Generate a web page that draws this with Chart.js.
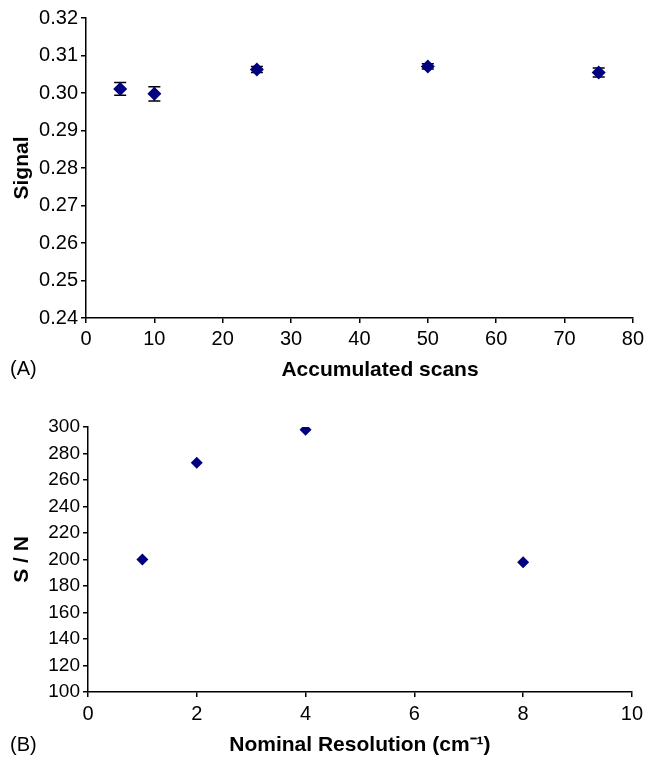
<!DOCTYPE html>
<html>
<head>
<meta charset="utf-8">
<script src="https://cdn.jsdelivr.net/npm/chart.js@4.4.0/dist/chart.umd.min.js"></script>
<style>
body { margin: 0; background: #fff; }
#wrap { position: relative; width: 648px; height: 763px; font-family: "Liberation Sans", Arial, sans-serif; }
.panel { position: absolute; left: 0; }
.tag { position: absolute; font-size: 20px; color: #000; }
.xtitle { position: absolute; font-size: 21px; font-weight: bold; color: #000; transform: translateX(-50%); white-space: nowrap; }
</style>
</head>
<body>
<div id="wrap">
  <canvas id="chartA" class="panel" width="648" height="390" style="top:0"></canvas>
  <canvas id="chartB" class="panel" width="648" height="373" style="top:390px"></canvas>
  <div class="tag" style="left:10px;top:357px">(A)</div>
  <div class="xtitle" style="left:380px;top:357px">Accumulated scans</div>
  <div class="tag" style="left:10px;top:733px">(B)</div>
</div>
<script>
// panel A data
var scans = [5, 10, 25, 50, 75];
var signal = [0.3011, 0.2998, 0.3063, 0.3071, 0.3055];
var signalErr = [0.0017, 0.0019, 0.0008, 0.0007, 0.0012];

// panel B data
var resolution = [1, 2, 4, 8];
var snRatio = [200, 273, 298, 198];

const MARK = '#000080';
const FONT = "'Liberation Sans', Arial, sans-serif";

Chart.defaults.font.family = FONT;
Chart.defaults.color = '#000';

function toPoints(xs, ys) {
  return xs.map(function (x, i) { return {x: x, y: ys[i]}; });
}

var errorBars = {
  id: 'errorBars',
  beforeDatasetsDraw: function (chart) {
    let ctx = chart.ctx;
    let xs = chart.scales.x, ys = chart.scales.y;
    ctx.save();
    ctx.strokeStyle = '#000';
    ctx.lineWidth = 1.5;
    for (let i = 0; i < scans.length; i++) {
      let px = xs.getPixelForValue(scans[i]);
      let top = ys.getPixelForValue(signal[i] + signalErr[i]);
      let bot = ys.getPixelForValue(signal[i] - signalErr[i]);
      ctx.beginPath();
      ctx.moveTo(px, top); ctx.lineTo(px, bot);
      ctx.moveTo(px - 6, top); ctx.lineTo(px + 6, top);
      ctx.moveTo(px - 6, bot); ctx.lineTo(px + 6, bot);
      ctx.stroke();
    }
    ctx.restore();
  }
};

function axisStyle() {
  return {
    grid: {display: true, drawOnChartArea: false, drawTicks: true, tickLength: 5, color: '#000', lineWidth: 1.5},
    border: {display: true, color: '#000', width: 1.5}
  };
}

function makeChart(id, points, radius, xOpts, yOpts, padding, xHeight, yWidth, plugins) {
  let xAx = Object.assign({type: 'linear', position: 'bottom'}, axisStyle(), xOpts);
  let yAx = Object.assign({type: 'linear', position: 'left'}, axisStyle(), yOpts);
  xAx.afterFit = function (s) { s.height = xHeight; };
  yAx.afterFit = function (s) { s.width = yWidth; };
  return new Chart(document.getElementById(id), {
    type: 'scatter',
    data: {
      datasets: [{
        data: points,
        pointStyle: 'rectRot',
        pointRadius: radius,
        backgroundColor: MARK,
        borderColor: MARK,
        borderWidth: 0,
        showLine: false
      }]
    },
    options: {
      responsive: false,
      animation: false,
      layout: {padding: padding},
      plugins: {legend: {display: false}, tooltip: {enabled: false}},
      scales: {x: xAx, y: yAx}
    },
    plugins: plugins
  });
}

makeChart('chartA', toPoints(scans, signal), 7,
  {
    min: 0, max: 80,
    ticks: {stepSize: 10, padding: 4, font: {size: 20}, autoSkip: false}
  },
  {
    min: 0.24, max: 0.32,
    ticks: {stepSize: 0.01, padding: 3, font: {size: 20}, autoSkip: false, callback: function (v) { return v.toFixed(2); }},
    title: {display: true, text: 'Signal', font: {size: 21, weight: 'bold'}, padding: {top: 10, bottom: 0}}
  },
  {top: 18, right: 12, left: 0, bottom: 0}, 72, 86, [errorBars]);

makeChart('chartB', toPoints(resolution, snRatio), 6,
  {
    min: 0, max: 10,
    ticks: {stepSize: 2, padding: 5, font: {size: 20}, autoSkip: false},
    title: {display: true, text: 'Nominal Resolution (cm\u207B\u00B9)', font: {size: 21, weight: 'bold'}, padding: {top: 0, bottom: 5}}
  },
  {
    min: 100, max: 300,
    ticks: {stepSize: 20, padding: 3, font: {size: 19}, autoSkip: false},
    title: {display: true, text: 'S / N', font: {size: 21, weight: 'bold'}, padding: {top: 10, bottom: 0}}
  },
  {top: 37, right: 11, left: 0, bottom: 0}, 71, 88, []);
</script>
</body>
</html>
